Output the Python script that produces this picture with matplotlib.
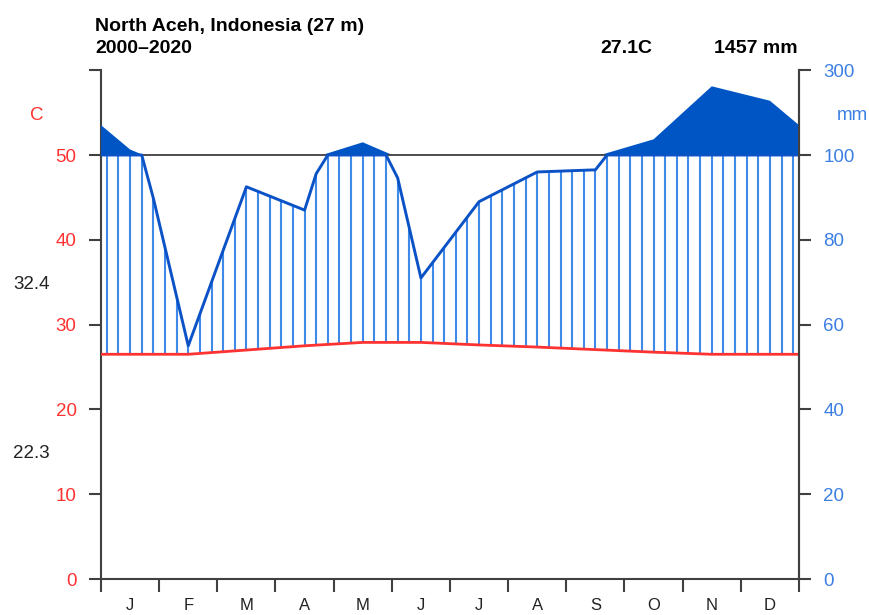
import numpy as np
import matplotlib
matplotlib.use("Agg")
import matplotlib.pyplot as plt
from matplotlib.transforms import blended_transform_factory

# Station and climate normals
station = "North Aceh, Indonesia (27 m)"
period = "2000\u20132020"
months = ["J", "F", "M", "A", "M", "J", "J", "A", "S", "O", "N", "D"]
temp_mean = [26.5, 26.5, 27.0, 27.5, 27.9, 27.9, 27.6, 27.35, 27.05, 26.75, 26.5, 26.5]
precip_mm = [113, 55, 92.5, 87, 130, 71, 89, 96, 96.5, 137, 262, 228]
warm_max_label = "32.4"
cold_min_label = "22.3"

plt.rcParams["font.family"] = ["Liberation Sans", "DejaVu Sans"]

RED = "#FF3232"
BLUE_TXT = "#3B7FE3"
BLUE_FILL = "#0055C4"
BLUE_LINE = "#0A52C6"
BLUE_HATCH = "#3F8AE8"
AXCOL = "#404040"

W, H = 870, 615
fig = plt.figure(figsize=(W / 100, H / 100), dpi=100)


def fx(px):
    return px / W


def fy(py):
    return 1 - py / H


ax_left, ax_right = 101, 799
ax_bottom, ax_top = 579, 579 - 60 * 8.48
ax = fig.add_axes([fx(ax_left), fy(ax_bottom), (ax_right - ax_left) / W,
                   (ax_bottom - ax_top) / H])


def compress(p):
    """Walter-Lieth precipitation scale: 2 mm per degree up to 100 mm,
    then 20 mm per degree above."""
    p = np.asarray(p, dtype=float)
    return np.where(p <= 100, p / 2.0, 50 + (p - 100) / 20.0)


def mm_label(c):
    return c * 2 if c <= 50 else 100 + (c - 50) * 20


# Wrap the annual cycle and interpolate on a 0.2-month grid
xs = np.arange(14) - 0.5
t_wrap = np.r_[temp_mean[-1], temp_mean, temp_mean[0]]
p_wrap = np.r_[precip_mm[-1], precip_mm, precip_mm[0]]
xi = np.linspace(-0.5, 12.5, 66)
ti = np.interp(xi, xs, t_wrap)
pi = np.interp(xi, xs, p_wrap)
pc = compress(pi)

# Humid-season hatching between temperature and precipitation curves
inside = (xi > 0) & (xi < 12)
for x, t, p in zip(xi[inside], ti[inside], pc[inside]):
    if p > t:
        ax.plot([x, x], [t, min(p, 50)], color=BLUE_HATCH, lw=1.5,
                solid_capstyle="butt", zorder=2)

# Very wet months (> 100 mm) filled solid
xf = np.linspace(-0.5, 12.5, 1301)
pf = compress(np.interp(xf, xs, p_wrap))
ax.fill_between(xf, 50, pf, where=pf > 50, interpolate=True,
                color=BLUE_FILL, lw=0, zorder=3)

ax.axhline(50, color=AXCOL, lw=1.3, zorder=3.5)
ax.plot(xi, np.minimum(pc, 50), color=BLUE_LINE, lw=2.1, zorder=4)
ax.plot(xi, ti, color=RED, lw=2.0, zorder=5)

ax.set_xlim(0, 12)
ax.set_ylim(0, 60)

ax.spines["top"].set_visible(False)
for side in ["left", "right", "bottom"]:
    ax.spines[side].set_color(AXCOL)
    ax.spines[side].set_linewidth(1.5)

ax.set_xticks(np.arange(13))
ax.set_xticklabels([])
ax.tick_params(axis="x", direction="out", length=9.5, width=1.5, color=AXCOL)

yt = np.arange(0, 61, 10)
ax.set_yticks(yt)
ax.set_yticklabels([f"{v:d}" if v < 60 else "" for v in yt])
ax.tick_params(axis="y", direction="out", length=8.6, width=1.5, color=AXCOL,
               labelcolor=RED, labelsize=13.5, pad=9)

ax2 = ax.twinx()
ax2.set_ylim(0, 60)
ax2.set_yticks(yt)
ax2.set_yticklabels([f"{mm_label(v):.0f}" for v in yt])
ax2.tick_params(axis="y", direction="out", length=8.6, width=1.5, color=AXCOL,
                labelcolor=BLUE_TXT, labelsize=13.5, pad=9)
for side in ["top", "left", "bottom"]:
    ax2.spines[side].set_visible(False)
ax2.spines["right"].set_color(AXCOL)
ax2.spines["right"].set_linewidth(1.5)

# Month initials centred under each month
trans = blended_transform_factory(ax.transData, fig.transFigure)
for i, m in enumerate(months):
    ax.text(i + 0.5, fy(610), m, transform=trans,
            ha="center", va="baseline", fontsize=12, color="#222222")

# Header and side annotations
fig.text(fx(95), fy(31), station, fontsize=14, fontweight="bold",
         ha="left", va="baseline")
fig.text(fx(95), fy(53), period, fontsize=14, fontweight="bold",
         ha="left", va="baseline")
fig.text(fx(600), fy(53), f"{np.mean(temp_mean):.1f}C", fontsize=14,
         fontweight="bold", ha="left", va="baseline")
fig.text(fx(798), fy(53), f"{np.sum(precip_mm):.0f} mm", fontsize=14,
         fontweight="bold", ha="right", va="baseline")
fig.text(fx(37), fy(115), "C", fontsize=13.5, color=RED, ha="center", va="center")
fig.text(fx(852), fy(116), "mm", fontsize=13.5, color=BLUE_TXT, ha="center",
         va="center")
fig.text(fx(13), fy(284.5), warm_max_label, fontsize=13.5, color="#222222",
         ha="left", va="center")
fig.text(fx(13), fy(453), cold_min_label, fontsize=13.5, color="#222222",
         ha="left", va="center")

fig.savefig("out.png", dpi=100)
